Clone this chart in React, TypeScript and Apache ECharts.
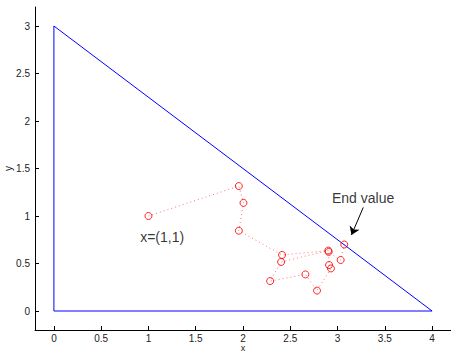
import React, { useEffect, useRef } from "react";
import * as echarts from "echarts";

const triX = [0, 0, 4, 0];
const triY = [0, 3, 0, 0];

const pathX = [1, 1.956, 2.005, 1.956, 2.413, 2.902, 2.403, 2.287, 2.66, 2.783, 2.93, 2.91, 2.906, 3.033, 3.071];
const pathY = [1, 1.315, 1.138, 0.845, 0.59, 0.636, 0.516, 0.315, 0.385, 0.215, 0.448, 0.484, 0.622, 0.537, 0.7];

const xTicks = [0, 0.5, 1, 1.5, 2, 2.5, 3, 3.5, 4];
const yTicks = [0, 0.5, 1, 1.5, 2, 2.5, 3];

const startLabel = { x: 1.145, y: 0.78, text: "x=(1,1)" };
const endLabel = { x: 3.27, y: 1.185, text: "End value" };
const arrowFrom = [3.272, 1.09];
const arrowTo = [3.147, 0.8];

export default function App() {
  const ref = useRef<HTMLDivElement>(null);
  useEffect(() => {
    if (!ref.current) return;
    const chart = echarts.init(ref.current, undefined, { renderer: "svg" });
    const font = "Liberation Sans, Arial, Helvetica, sans-serif";
    const axisCommon = {
      type: "value" as const,
      nameLocation: "middle" as const,
      nameMoveOverlap: false,
      axisLine: { show: true, onZero: false, lineStyle: { color: "#000", width: 1 } },
      splitLine: { show: false },
    };
    chart.setOption({
      animation: false,
      backgroundColor: "#fff",
      grid: { left: 35, right: 0, top: 7, bottom: 22, containLabel: false, outerBoundsMode: "none" },
      xAxis: {
        ...axisCommon,
        min: -0.2,
        max: 4.2,
        name: "x",
        nameGap: 14,
        nameTextStyle: { color: "#222", fontSize: 9, lineHeight: 8, fontFamily: font },
        axisTick: { show: true, inside: true, length: 4, customValues: xTicks, lineStyle: { color: "#000" } },
        axisLabel: { customValues: xTicks, color: "#222", fontSize: 10, fontFamily: font, margin: 3 },
      },
      yAxis: {
        ...axisCommon,
        min: -0.2,
        max: 3.2,
        name: "y",
        nameGap: 22,
        nameTextStyle: { color: "#222", fontSize: 10, fontFamily: font },
        axisTick: { show: true, inside: true, length: 4, customValues: yTicks, lineStyle: { color: "#000" } },
        axisLabel: { customValues: yTicks, color: "#222", fontSize: 10, fontFamily: font, margin: 5 },
      },
      series: [
        {
          type: "line",
          data: triX.map((x, i) => [x, triY[i]]),
          symbol: "none",
          lineStyle: { color: "#0000ff", width: 1 },
          z: 2,
        },
        {
          type: "line",
          data: pathX.map((x, i) => [x, pathY[i]]),
          symbol: "none",
          lineStyle: { color: "#ff0000", width: 1, type: [1, 3], opacity: 0.55 },
          z: 3,
        },
        {
          type: "scatter",
          data: pathX.map((x, i) => [x, pathY[i]]),
          symbol: "circle",
          symbolSize: 7,
          itemStyle: { color: "transparent", borderColor: "#ff0000", borderWidth: 1, opacity: 0.85 },
          z: 4,
        },
        {
          type: "scatter",
          data: [
            { value: [startLabel.x, startLabel.y], label: { formatter: startLabel.text } },
            { value: [endLabel.x, endLabel.y], label: { formatter: endLabel.text } },
          ],
          symbolSize: 0,
          label: {
            show: true,
            position: "inside",
            color: "#000",
            fontSize: 14,
            fontFamily: font,
          },
          z: 5,
        },
        {
          type: "lines",
          coordinateSystem: "cartesian2d",
          polyline: false,
          symbol: ["none", "arrow"],
          symbolSize: 8,
          data: [{ coords: [arrowFrom, arrowTo] }],
          lineStyle: { color: "#000", width: 1, opacity: 1 },
          z: 5,
        },
      ],
    });
    return () => chart.dispose();
  }, []);
  return (
    <div
      ref={ref}
      style={{ position: "fixed", left: 0, top: 0, width: 451, height: 352, background: "#fff" }}
    />
  );
}
